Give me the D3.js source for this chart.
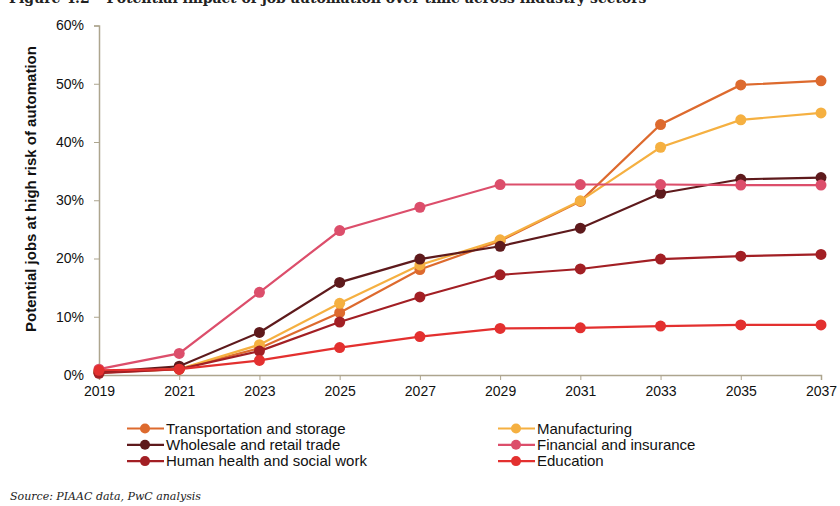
<!DOCTYPE html>
<html>
<head>
<meta charset="utf-8">
<script src="https://cdn.jsdelivr.net/npm/d3@7"></script>
<style>
  body { margin: 0; background: #fff; }
  svg { display: block; }
  .tick text { font-family: "Liberation Sans", Arial, sans-serif; font-size: 14px; fill: #111; }
</style>
</head>
<body>
<div id="chart"></div>
<script>
// years on the x axis
const years = [2019, 2021, 2023, 2025, 2027, 2029, 2031, 2033, 2035, 2037];
const yTicks = [0, 10, 20, 30, 40, 50, 60];

// share of jobs at high risk, in %
const transport = [0.4, 1.0, 4.6, 10.7, 18.1, 23.0, 29.8, 43.0, 49.8, 50.5];
const manufacturing = [0.5, 1.0, 5.2, 12.3, 18.9, 23.2, 29.9, 39.1, 43.8, 45.0];
const wholesale = [0.5, 1.5, 7.3, 15.9, 19.9, 22.1, 25.2, 31.2, 33.6, 33.9];
const financial = [1.0, 3.7, 14.2, 24.8, 28.8, 32.7, 32.7, 32.7, 32.6, 32.6];
const health = [0.3, 1.0, 4.1, 9.1, 13.4, 17.2, 18.2, 19.9, 20.4, 20.7];
const education = [0.8, 1.0, 2.5, 4.7, 6.6, 8.0, 8.1, 8.4, 8.6, 8.6];

const seriesNames = ["Transportation and storage", "Manufacturing", "Wholesale and retail trade",
    "Financial and insurance", "Human health and social work", "Education"];
const seriesValues = [transport, manufacturing, wholesale, financial, health, education];
const colors = ["#DD6A2E", "#F5B041", "#5E1A1C", "#DC4E6B", "#A21F24", "#E3302F"];

let svg = d3.select("#chart").append("svg")
    .attr("width", 840)
    .attr("height", 506);

// title, cut off at the top like the source image
svg.append("text")
    .attr("x", 9)
    .attr("y", 3)
    .attr("font-family", "'DejaVu Serif', Georgia, serif")
    .attr("font-size", 14)
    .attr("font-weight", "bold")
    .attr("fill", "#222")
    .text("Figure 4.2 \u2013 Potential impact of job automation over time across industry sectors");

let x = d3.scaleLinear().domain([2019, 2037]).range([99, 821]);
let y = d3.scaleLinear().domain([0, 60]).range([375, 25.5]);

const axisColor = "#ADA58E";

// y axis
let yAxis = svg.append("g")
    .attr("transform", "translate(99,0)")
    .call(d3.axisLeft(y).tickValues(yTicks).tickSize(5).tickPadding(10).tickFormat(d => d + "%"));
yAxis.select(".domain").attr("stroke", axisColor).attr("stroke-width", 1.5);
yAxis.selectAll(".tick line").attr("stroke", axisColor);

// x axis
let xAxis = svg.append("g")
    .attr("transform", "translate(0,375)")
    .call(d3.axisBottom(x).tickValues(years).tickSize(5).tickPadding(6).tickFormat(d3.format("d")));
xAxis.select(".domain").attr("stroke", axisColor).attr("stroke-width", 1.5);
xAxis.selectAll(".tick line").attr("stroke", axisColor);

// axis title
svg.append("text")
    .attr("transform", "translate(31,189) rotate(-90)")
    .attr("text-anchor", "middle")
    .attr("dy", "0.35em")
    .attr("font-family", "'Liberation Sans', Arial, sans-serif")
    .attr("font-size", 15)
    .attr("font-weight", "bold")
    .attr("fill", "#111")
    .text("Potential jobs at high risk of automation");

let line = d3.line()
    .x((d, i) => x(years[i]))
    .y(d => y(d));

//draw each series: line then dots
seriesValues.forEach((vals, s) => {
    let g = svg.append("g");
    g.append("path")
        .datum(vals)
        .attr("d", line)
        .attr("fill", "none")
        .attr("stroke", colors[s])
        .attr("stroke-width", 2.2);
    g.selectAll("circle")
        .data(vals)
        .enter()
        .append("circle")
        .attr("cx", (d, i) => x(years[i]))
        .attr("cy", d => y(d))
        .attr("r", 5.5)
        .attr("fill", colors[s]);
});

// legend, two columns
let legend = svg.append("g");
seriesNames.forEach((name, i) => {
    let lx = (i % 2 === 0) ? 127 : 498;
    let ly = 428.5 + Math.floor(i / 2) * 16.3;
    legend.append("line")
        .attr("x1", lx).attr("x2", lx + 37)
        .attr("y1", ly).attr("y2", ly)
        .attr("stroke", colors[i])
        .attr("stroke-width", 2.2);
    legend.append("circle")
        .attr("cx", lx + 18).attr("cy", ly)
        .attr("r", 5)
        .attr("fill", colors[i]);
    legend.append("text")
        .attr("x", lx + 39)
        .attr("y", ly)
        .attr("dy", "0.35em")
        .attr("font-family", "'Liberation Sans', Arial, sans-serif")
        .attr("font-size", 15)
        .attr("fill", "#111")
        .text(name);
});

// source note
svg.append("text")
    .attr("x", 10)
    .attr("y", 500)
    .attr("font-family", "'DejaVu Serif', Georgia, serif")
    .attr("font-size", 11)
    .attr("font-style", "italic")
    .attr("fill", "#222")
    .text("Source: PIAAC data, PwC analysis");
</script>
</body>
</html>
